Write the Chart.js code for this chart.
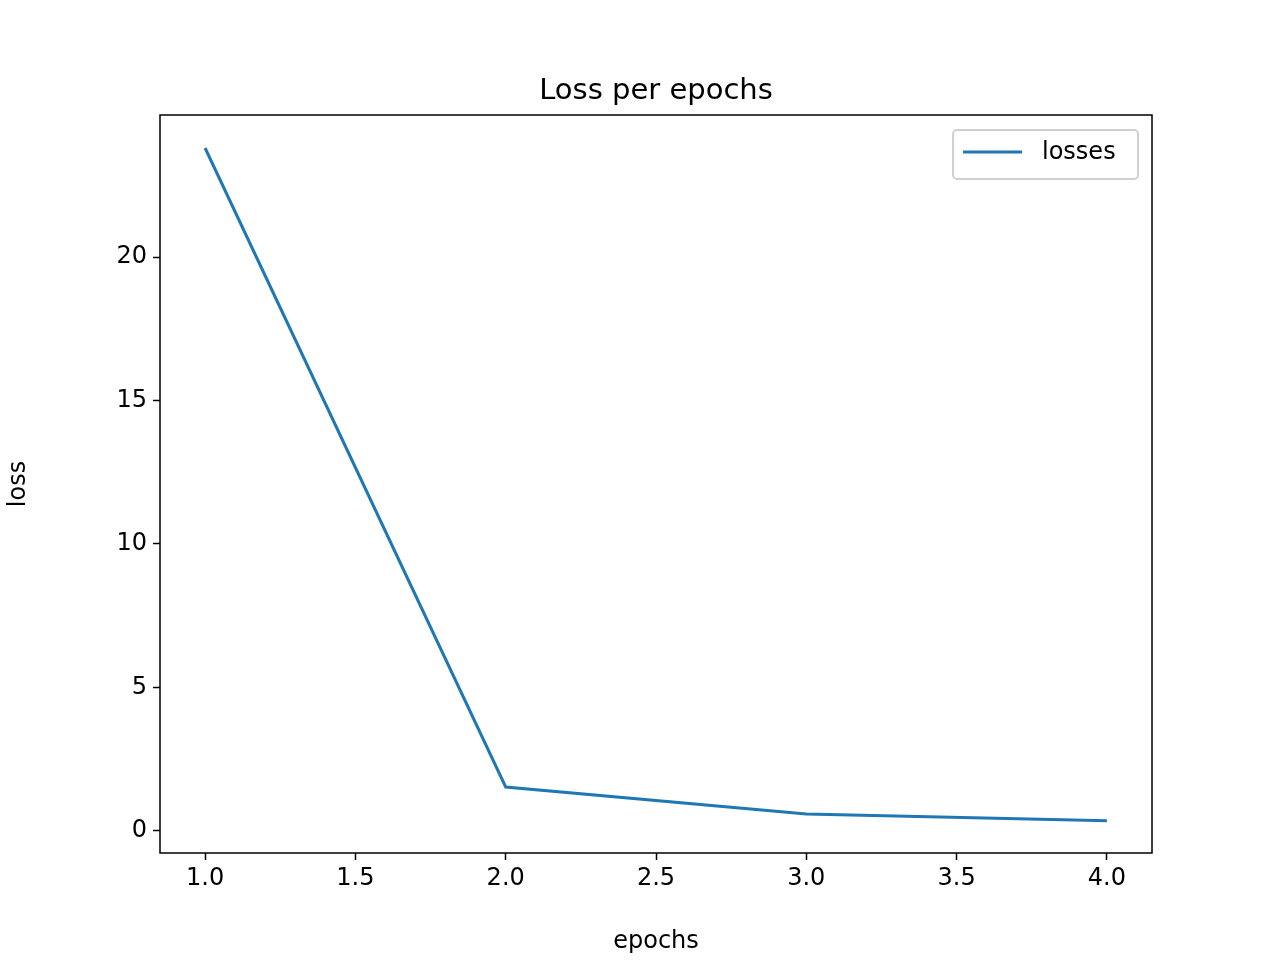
<!DOCTYPE html>
<html>
<head>
<meta charset="utf-8">
<script src="https://cdn.jsdelivr.net/npm/chart.js@4/dist/chart.umd.min.js"></script>
<style>
  html, body { margin: 0; padding: 0; background: #fff; }
  #wrap { width: 1280px; height: 960px; }
</style>
</head>
<body>
<div id="wrap"><canvas id="lossChart" width="1280" height="960"></canvas></div>
<script>
// data
const epochs = [1, 2, 3, 4];
const losses = [23.8, 1.53, 0.59, 0.35];
const xTicks = [1.0, 1.5, 2.0, 2.5, 3.0, 3.5, 4.0];
const yTicks = [0, 5, 10, 15, 20];

const FONT = 'DejaVu Sans';
const BLUE = '#1f77b4';

// frame, title and legend drawn like matplotlib
const decor = {
  id: 'decor',
  afterDraw(chart) {
    const { ctx, chartArea: a } = chart;
    ctx.save();
    ctx.strokeStyle = '#000';
    ctx.lineWidth = 1.5;
    ctx.strokeRect(a.left, a.top, a.right - a.left, a.bottom - a.top);

    ctx.fillStyle = '#000';
    ctx.font = '29px ' + FONT;
    ctx.textAlign = 'center';
    ctx.textBaseline = 'alphabetic';
    ctx.fillText('Loss per epochs', (a.left + a.right) / 2, 99);

    // legend box
    const bx = a.right - 199, by = a.top + 15, bw = 185, bh = 49;
    ctx.strokeStyle = '#d0d0d0';
    ctx.lineWidth = 2;
    ctx.beginPath();
    ctx.roundRect(bx, by, bw, bh, 4);
    ctx.fillStyle = 'rgba(255,255,255,0.8)';
    ctx.fill();
    ctx.stroke();
    ctx.strokeStyle = BLUE;
    ctx.lineWidth = 3;
    ctx.beginPath();
    ctx.moveTo(bx + 10, by + 22);
    ctx.lineTo(bx + 69, by + 22);
    ctx.stroke();
    ctx.fillStyle = '#000';
    ctx.font = '24px ' + FONT;
    ctx.textAlign = 'left';
    ctx.textBaseline = 'middle';
    ctx.fillText('losses', bx + 89, by + 23);
    ctx.restore();
  }
};

new Chart(document.getElementById('lossChart'), {
  type: 'line',
  data: {
    datasets: [{
      label: 'losses',
      data: epochs.map((e, i) => ({ x: e, y: losses[i] })),
      borderColor: BLUE,
      borderWidth: 3,
      pointRadius: 0,
      tension: 0,
      fill: false
    }]
  },
  options: {
    responsive: false,
    animation: false,
    layout: { padding: { top: 115, right: 128, left: 0, bottom: 0 } },
    plugins: { legend: { display: false }, tooltip: { enabled: false } },
    scales: {
      x: {
        type: 'linear',
        min: 0.85,
        max: 4.15,
        afterBuildTicks: s => { s.ticks = xTicks.map(v => ({ value: v })); },
        afterFit: s => { s.height = 107; },
        grid: { drawOnChartArea: false, tickLength: 7, color: '#000', tickWidth: 1.5 },
        border: { display: false },
        ticks: {
          color: '#000', font: { family: FONT, size: 24 }, padding: 4,
          maxRotation: 0, autoSkip: false,
          callback: v => Number(v).toFixed(1)
        },
        title: { display: true, text: 'epochs', color: '#000', font: { family: FONT, size: 24 }, padding: { top: 2 } }
      },
      y: {
        min: -0.77,
        max: 24.95,
        afterBuildTicks: s => { s.ticks = yTicks.map(v => ({ value: v })); },
        afterFit: s => { s.width = 160; },
        grid: { drawOnChartArea: false, tickLength: 7, color: '#000', tickWidth: 1.5 },
        border: { display: false },
        ticks: { color: '#000', font: { family: FONT, size: 24 }, padding: 6 },
        title: { display: true, text: 'loss', color: '#000', font: { family: FONT, size: 24 }, padding: { bottom: 0 } }
      }
    }
  },
  plugins: [decor]
});
</script>
</body>
</html>
